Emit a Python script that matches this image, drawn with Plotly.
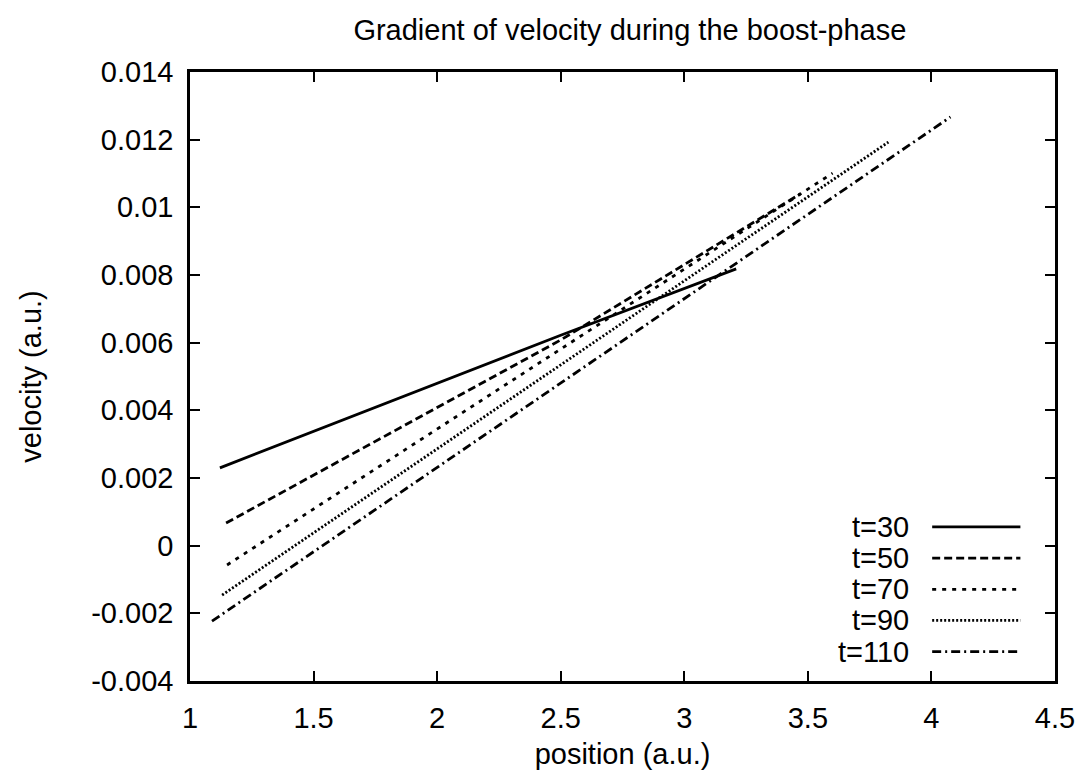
import plotly.graph_objects as go

# ---- data ----
labels = ["t=30", "t=50", "t=70", "t=90", "t=110"]
x_t30 = [1.121, 2.5, 3.21]
y_t30 = [0.00230, 0.00622, 0.00818]
x_t50 = [1.146, 2.5, 3.47]
y_t50 = [0.00067, 0.00608, 0.01040]
x_t70 = [1.150, 3.60]
y_t70 = [-0.00057, 0.01101]
x_t90 = [1.130, 3.826]
y_t90 = [-0.00146, 0.01193]
x_t110 = [1.089, 4.077]
y_t110 = [-0.00223, 0.01267]

xs = [x_t30, x_t50, x_t70, x_t90, x_t110]
ys = [y_t30, y_t50, y_t70, y_t90, y_t110]

x_ticks = [1, 1.5, 2, 2.5, 3, 3.5, 4, 4.5]
y_ticks = [-0.004, -0.002, 0, 0.002, 0.004, 0.006, 0.008, 0.01, 0.012, 0.014]
y_tick_text = ["-0.004", "-0.002", "0", "0.002", "0.004", "0.006", "0.008", "0.01", "0.012", "0.014"]

# ---- styles ----
dashes = ["solid", "8px,4px", "4px,6px", "2px,2px", "9px,4px,2px,4px"]
LW = 2.8
FONT = "Liberation Sans, Arial, sans-serif"
FS = 29

fig = go.Figure()
for lab, x, y, d in zip(labels, xs, ys, dashes):
    fig.add_trace(go.Scatter(x=x, y=y, mode="lines", name=lab,
                             line=dict(color="black", width=LW, dash=d),
                             showlegend=False))

# gnuplot-like legend: text right-aligned, sample line to its right
legend_top = 0.253
legend_step = 0.0512
for i, (lab, d) in enumerate(zip(labels, dashes)):
    yy = legend_top - i * legend_step
    fig.add_annotation(x=0.834, y=yy, xref="paper", yref="paper", text=lab,
                       showarrow=False, xanchor="right", yanchor="middle",
                       font=dict(family=FONT, size=FS, color="black"))
    fig.add_shape(type="line", xref="paper", yref="paper",
                  x0=0.858, x1=0.960, y0=yy, y1=yy,
                  line=dict(color="black", width=LW, dash=d))

axis_common = dict(showline=True, linecolor="black", linewidth=2.5, mirror="ticks",
                   ticks="inside", ticklen=10, tickwidth=2, tickcolor="black",
                   showgrid=False, zeroline=False,
                   tickfont=dict(family=FONT, size=FS, color="black"))

fig.update_layout(
    width=1086, height=782,
    margin=dict(l=190, r=31, t=72, b=101),
    paper_bgcolor="white", plot_bgcolor="white",
    title=dict(text="Gradient of velocity during the boost-phase", x=0.58, xanchor="center",
               y=0.962, yanchor="middle",
               font=dict(family=FONT, size=FS, color="black")),
    xaxis=dict(range=[1, 4.5], tickvals=x_ticks, ticktext=[str(v) for v in x_ticks],
               ticklabelstandoff=9,
               title=dict(text="position (a.u.)", font=dict(family=FONT, size=FS, color="black"),
                          standoff=12),
               **axis_common),
    yaxis=dict(range=[-0.004, 0.014], tickvals=y_ticks, ticktext=y_tick_text,
               ticklabelstandoff=8,
               title=dict(text="velocity (a.u.)", font=dict(family=FONT, size=FS, color="black"),
                          standoff=42),
               **axis_common),
    showlegend=False,
)

fig.write_html("out.html")
